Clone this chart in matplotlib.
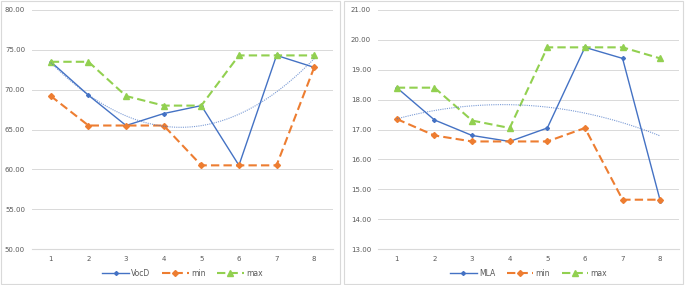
import numpy as np
import matplotlib.pyplot as plt
from matplotlib.patches import Rectangle

x = [1, 2, 3, 4, 5, 6, 7, 8]
xlabels = ['1', '2', '3', '4', '5', '6', '7', '8']

vocd = [73.5, 69.3, 65.5, 67.0, 68.0, 60.5, 74.3, 72.8]
vocd_min = [69.2, 65.5, 65.5, 65.5, 60.5, 60.5, 60.5, 72.8]
vocd_max = [73.5, 73.5, 69.2, 68.0, 68.0, 74.3, 74.3, 74.3]

mla = [18.4, 17.32, 16.8, 16.6, 17.05, 19.75, 19.38, 14.62]
mla_min = [17.35, 16.8, 16.6, 16.6, 16.6, 17.05, 14.65, 14.65]
mla_max = [18.4, 18.4, 17.3, 17.05, 19.75, 19.75, 19.75, 19.38]

blue = '#4472C4'
orange = '#ED7D31'
green = '#92D050'
txt = '#595959'

fig = plt.figure(figsize=(6.85, 2.85), dpi=100)

# panel frames
for x0 in [1, 344]:
    fig.patches.append(Rectangle((x0 / 685, 1 / 285), 339 / 685, 283 / 285,
                                 transform=fig.transFigure, fill=False,
                                 edgecolor='#d9d9d9', linewidth=0.8))


def panel(left, name, s, smin, smax, ylo, yhi, step):
    ax = fig.add_axes([left / 685, (285 - 249) / 285, 301 / 685, 239 / 285])
    ax.plot(x, s, color=blue, lw=1.0, marker='D', ms=2, label=name)
    ax.plot(x, smin, color=orange, lw=1.5, ls=(0, (4, 2)), marker='D', ms=3, label='min')
    ax.plot(x, smax, color=green, lw=1.5, ls=(0, (4, 2)), marker='^', ms=4, label='max')
    # polynomial trend (order 2) of the main series
    c = np.polyfit(x, s, 2)
    xs = np.linspace(1, 8, 100)
    ax.plot(xs, np.polyval(c, xs), color=blue, lw=0.8, ls=(0, (1, 1)), alpha=0.7)
    ax.set_xlim(0.5, 8.5)
    ax.set_ylim(ylo, yhi)
    ax.set_yticks(np.arange(ylo, yhi + 0.01, step))
    ax.set_yticklabels(['%.2f' % v for v in np.arange(ylo, yhi + 0.01, step)])
    ax.set_xticks(x)
    ax.set_xticklabels(xlabels)
    ax.grid(axis='y', color='#d9d9d9', lw=0.7)
    ax.set_axisbelow(True)
    for sp in ax.spines.values():
        sp.set_visible(False)
    ax.spines['bottom'].set_visible(True)
    ax.spines['bottom'].set_color('#d9d9d9')
    ax.tick_params(length=0, labelsize=5, colors=txt, pad=5)
    leg = ax.legend(loc='upper center', bbox_to_anchor=(0.5, -0.055), ncol=3,
                    frameon=False, fontsize=5.5, handlelength=3.5, columnspacing=1.5,
                    handletextpad=0.3)
    for t in leg.get_texts():
        t.set_color(txt)
    return ax


panel(32, 'VocD', vocd, vocd_min, vocd_max, 50, 80, 5)
panel(378, 'MLA', mla, mla_min, mla_max, 13, 21, 1)

fig.savefig('out.png', dpi=100)
